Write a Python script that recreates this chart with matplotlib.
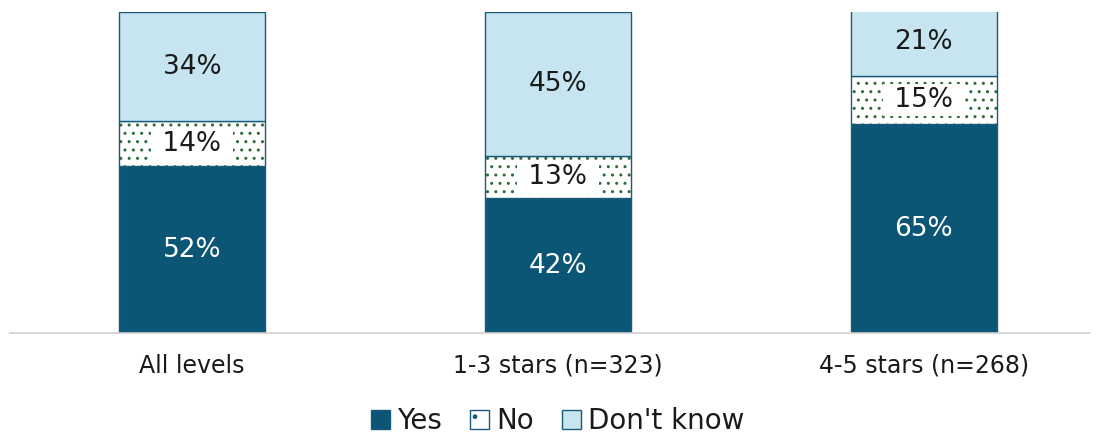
import numpy as np
import matplotlib
matplotlib.use("Agg")
import matplotlib.pyplot as plt
from matplotlib.patches import Patch

categories = ['All levels', '1-3 stars (n=323)', '4-5 stars (n=268)']
yes = [52, 42, 65]
no = [14, 13, 15]
dont_know = [34, 45, 21]

c_yes = '#0b5575'
c_dk = '#c6e5f1'
c_edge = '#1a5b7a'
c_hatch = '#2e6b3a'

plt.rcParams['font.family'] = ['DejaVu Sans']
plt.rcParams['hatch.linewidth'] = 1.0

fig = plt.figure(figsize=(10.96, 4.33), dpi=100)
ax = fig.add_axes([10/1096, 1 - 333/433, 1080/1096, 321/433])

x = np.arange(len(categories))
w = 0.40
yes = np.array(yes)
no = np.array(no)
dont_know = np.array(dont_know)

ax.bar(x, yes, w, color=c_yes, edgecolor=c_edge, linewidth=1)
ax.bar(x, no, w, bottom=yes, color='white', edgecolor=c_hatch,
       linewidth=0, hatch='..')
# outline of the "No" segment, drawn separately so the hatch stays green
ax.bar(x, no, w, bottom=yes, fill=False, edgecolor=c_edge, linewidth=1)
ax.bar(x, dont_know, w, bottom=yes + no, color=c_dk, edgecolor=c_edge,
       linewidth=1)

for i in range(len(x)):
    ax.text(x[i], yes[i] / 2, '%d%%' % yes[i], ha='center', va='center',
            color='white', fontsize=19)
    ax.text(x[i], yes[i] + no[i] / 2, ' %d%% ' % no[i], ha='center',
            va='center', color='#1a1a1a', fontsize=19,
            bbox=dict(facecolor='white', edgecolor='none',
                      boxstyle='square,pad=0.12'))
    ax.text(x[i], yes[i] + no[i] + dont_know[i] / 2, '%d%%' % dont_know[i],
            ha='center', va='center', color='#1a1a1a', fontsize=19)

ax.set_xlim(-0.497, 2.454)
ax.set_ylim(0, 100)
ax.set_yticks([])
ax.set_xticks(x)
ax.set_xticklabels(categories, fontsize=17, color='#1a1a1a')
ax.tick_params(axis='x', length=0, pad=15)
for s in ['top', 'right', 'left']:
    ax.spines[s].set_visible(False)
ax.spines['bottom'].set_color('#d0d0d0')
ax.spines['bottom'].set_linewidth(1.2)

handles = [Patch(facecolor=c_yes, edgecolor=c_edge),
           Patch(facecolor='white', edgecolor=c_edge, hatch='.'),
           Patch(facecolor=c_dk, edgecolor=c_edge)]
ax.legend(handles, ['Yes', 'No', "Don't know"], loc='center',
          bbox_to_anchor=(0.507, -0.274), ncol=3, frameon=False, fontsize=20,
          handlelength=0.7, handleheight=0.7, handletextpad=0.25,
          columnspacing=1.0, labelcolor='#1a1a1a', borderpad=0)

fig.savefig('out.png', dpi=100)
